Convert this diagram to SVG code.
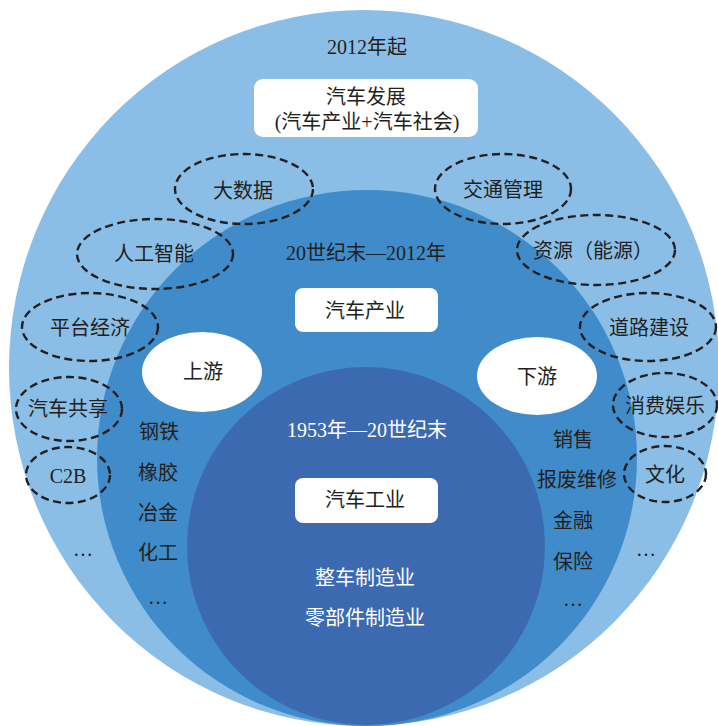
<svg xmlns="http://www.w3.org/2000/svg" width="718" height="726" viewBox="0 0 718 726">
  <style>
    text { font-family: "Liberation Serif", "Noto Sans CJK SC", serif; font-size: 20px; text-anchor: middle; fill: #231f20; }
    .w { fill: #ffffff; }
    .dash { fill: none; stroke: #231f20; stroke-width: 2.4; stroke-dasharray: 8 4.5; }
    .box { fill: #ffffff; }
  </style>
  <rect width="718" height="726" fill="#ffffff"/>
  <g id="era-2012">
    <ellipse cx="364" cy="368" rx="355" ry="358" fill="#8bbee6"/>
  </g>
  <g id="era-20c">
    <ellipse cx="367" cy="458" rx="270" ry="268" fill="#408cca"/>
  </g>
  <g id="era-1953">
    <circle cx="366" cy="546" r="179" fill="#3c6ab1"/>
  </g>

  <g id="outer-labels">
    <text x="367" y="54">2012年起</text>
  </g>
  <g id="node-development">
    <rect class="box" x="254" y="79" width="224" height="58" rx="9"/>
    <text x="366" y="104">汽车发展</text>
    <text x="367" y="129">(汽车产业+汽车社会)</text>
  </g>

  <g id="connectors"></g>

  <g id="node-bigdata"><ellipse class="dash" cx="244" cy="189" rx="69" ry="35"/><text x="243" y="198">大数据</text></g>
  <g id="node-traffic"><ellipse class="dash" cx="503" cy="189" rx="68" ry="35"/><text x="503" y="197">交通管理</text></g>
  <g id="node-ai"><ellipse class="dash" cx="155" cy="254" rx="78" ry="35"/><text x="154" y="261">人工智能</text></g>
  <g id="node-resource"><ellipse class="dash" cx="596" cy="250" rx="79" ry="35"/><text x="593" y="258">资源（能源）</text></g>
  <g id="node-platform"><ellipse class="dash" cx="90" cy="327" rx="68" ry="34"/><text x="90" y="335">平台经济</text></g>
  <g id="node-road"><ellipse class="dash" cx="648" cy="327" rx="68" ry="34"/><text x="649" y="335">道路建设</text></g>
  <g id="node-sharing"><ellipse class="dash" cx="69" cy="409" rx="53" ry="32"/><text x="68" y="416">汽车共享</text></g>
  <g id="node-consume"><ellipse class="dash" cx="665" cy="405" rx="52" ry="32"/><text x="665" y="413">消费娱乐</text></g>
  <g id="node-c2b"><ellipse class="dash" cx="68" cy="475" rx="42" ry="28"/><text x="68" y="483">C2B</text></g>
  <g id="node-culture"><ellipse class="dash" cx="665" cy="474" rx="41" ry="28"/><text x="665" y="482">文化</text></g>
  <g id="outer-more">
    <text x="83" y="556">…</text>
    <text x="646" y="556">…</text>
  </g>

  <g id="middle-labels">
    <text x="366" y="260">20世纪末—2012年</text>
  </g>
  <g id="node-industry">
    <rect class="box" x="295" y="288" width="143" height="44" rx="8"/>
    <text x="365" y="318">汽车产业</text>
  </g>
  <g id="node-upstream">
    <ellipse cx="202" cy="372" rx="60" ry="40" fill="#ffffff"/>
    <text x="203" y="379">上游</text>
  </g>
  <g id="node-downstream">
    <ellipse cx="537" cy="376" rx="60" ry="39" fill="#ffffff"/>
    <text x="537" y="384">下游</text>
  </g>
  <g id="upstream-list">
    <text x="159" y="439">钢铁</text>
    <text x="158" y="480">橡胶</text>
    <text x="158" y="520">冶金</text>
    <text x="158" y="560">化工</text>
    <text x="158" y="604">…</text>
  </g>
  <g id="downstream-list">
    <text x="573" y="447">销售</text>
    <text x="577" y="487">报废维修</text>
    <text x="573" y="528">金融</text>
    <text x="573" y="569">保险</text>
    <text x="573" y="606">…</text>
  </g>

  <g id="inner-labels">
    <text class="w" x="367" y="437">1953年—20世纪末</text>
  </g>
  <g id="node-auto-industry">
    <rect class="box" x="295" y="478" width="143" height="45" rx="8"/>
    <text x="365" y="507">汽车工业</text>
  </g>
  <g id="inner-list">
    <text class="w" x="365" y="585">整车制造业</text>
    <text class="w" x="365" y="625">零部件制造业</text>
  </g>
</svg>
